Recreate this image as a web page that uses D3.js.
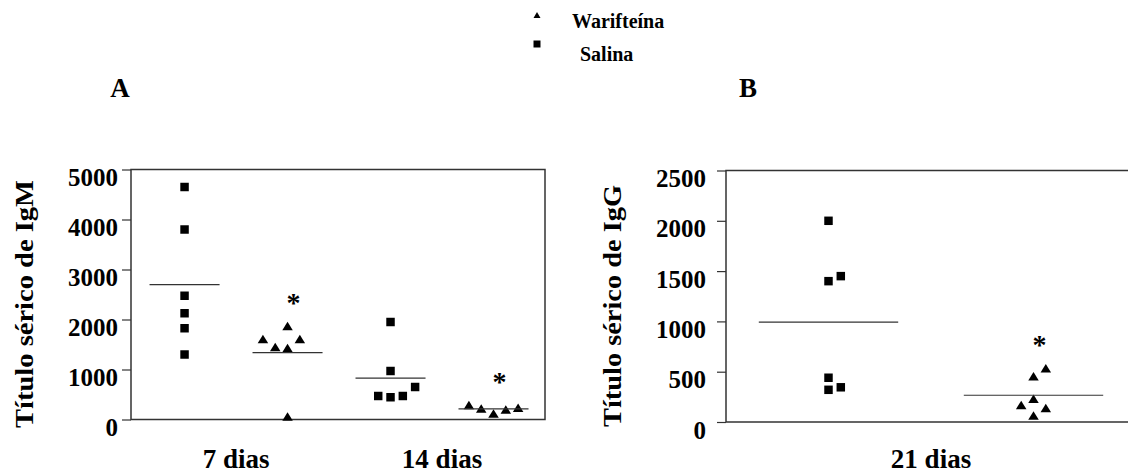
<!DOCTYPE html>
<html>
<head>
<meta charset="utf-8">
<script src="https://cdn.jsdelivr.net/npm/d3@7"></script>
<style>
  body { margin: 0; background: #fff; }
  svg { display: block; }
</style>
</head>
<body>
<svg id="chart"></svg>
<script>
// ---- data ----
// panel A: serum IgM titre, 7 and 14 days
const ticksA = [0, 1000, 2000, 3000, 4000, 5000];
const dayLabelsA = ["7 dias", "14 dias"];
const salina7 = [4650, 3800, 2475, 2125, 1825, 1300];
const salina7Slots = [0, 0, 0, 0, 0, 0];
const warif7 = [1610, 1450, 1430, 1610, 1870, 60];
const warif7Slots = [-2, -1, 0, 1, 0, 0];
const salina14 = [1950, 970, 470, 445, 470, 650];
const salina14Slots = [0, 0, -1, 0, 1, 2];
const warif14 = [290, 220, 120, 200, 235];
const warif14Slots = [-2, -1, 0, 1, 2];

// panel B: serum IgG titre, 21 days
const ticksB = [0, 500, 1000, 1500, 2000, 2500];
const dayLabelsB = ["21 dias"];
const salina21 = [2000, 1400, 1450, 440, 320, 345];
const salina21Slots = [0, 0, 1, 0, 0, 1];
const warif21 = [455, 535, 230, 170, 140, 65];
const warif21Slots = [0, 1, 0, -1, 1, 0];

const legendNames = ["Warifteína", "Salina"];

// ---- drawing ----
const W = 1128, H = 475;
const FONT = "'Liberation Serif', 'DejaVu Serif', 'Times New Roman', Times, serif";
const svg = d3.select("#chart").attr("width", W).attr("height", H)
    .style("font-family", FONT)
    .style("font-weight", "bold");

const slotGap = 12.3;   // horizontal spacing of side-by-side points

function triPath(w, h) {
    return "M0," + (-h / 2) + "L" + (w / 2) + "," + (h / 2) + "L" + (-w / 2) + "," + (h / 2) + "Z";
}
const squarePath = d3.symbol(d3.symbolSquare, 72)();
const trianglePath = triPath(10.5, 8.5);

function label(sel) {
    return sel.style("font-family", FONT).style("font-weight", "bold").attr("fill", "#000");
}

function drawPanel(p) {
    let x = d3.scaleLinear().domain(p.xDomain).range([p.left, p.right]);
    let y = d3.scaleLinear().domain([0, p.yMax]).range([p.bottom, p.top]);
    let g = svg.append("g");

    // frame
    g.append("path")
        .attr("d", "M" + p.right + "," + p.top + "H" + p.left + "V" + p.bottom + "H" + p.right + (p.closeRight ? "Z" : ""))
        .attr("fill", "none")
        .attr("stroke", "#333")
        .attr("stroke-width", 1.5);

    // y axis ticks + labels
    let axis = g.append("g")
        .attr("transform", "translate(" + p.left + ",0)")
        .call(d3.axisLeft(y).tickValues(p.ticks).tickSize(9).tickPadding(p.pad).tickFormat(d3.format("d")))
        .attr("font-family", null)
        .attr("font-size", null);
    axis.select(".domain").remove();
    axis.selectAll(".tick line").attr("stroke", "#333").attr("stroke-width", 1.2);
    axis.selectAll(".tick text")
        .call(label)
        .attr("font-size", 25)
        .attr("dy", "0.64em");

    // y title
    g.append("text")
        .call(label)
        .attr("transform", "translate(" + p.titleX + "," + p.titleY + ") rotate(-90)")
        .attr("text-anchor", "middle")
        .attr("font-size", 26)
        .attr("textLength", p.titleLen)
        .attr("lengthAdjust", "spacingAndGlyphs")
        .text(p.title);

    // day labels under the axis
    g.selectAll(".day")
        .data(p.days)
        .enter()
        .append("text")
        .call(label)
        .attr("x", (d, i) => x(i * 2 + 0.5))
        .attr("y", 468)
        .attr("text-anchor", "middle")
        .attr("font-size", 27)
        .text(d => d);

    // groups of points
    p.groups.forEach(function(grp) {
        let cx = x(grp.pos);

        g.selectAll(null)
            .data(grp.values)
            .enter()
            .append("path")
            .attr("d", grp.shape === "square" ? squarePath : trianglePath)
            .attr("transform", (d, i) => "translate(" + (cx + grp.slots[i] * slotGap) + "," + y(d) + ")")
            .attr("fill", "#000");

        // mean line
        let mean = d3.mean(grp.values);
        g.append("line")
            .attr("x1", x(grp.pos - 0.34))
            .attr("x2", x(grp.pos + 0.34))
            .attr("y1", y(mean))
            .attr("y2", y(mean))
            .attr("stroke", "#333")
            .attr("stroke-width", 1.2);

        // significance mark
        if (grp.star) {
            g.append("text")
                .call(label)
                .attr("x", cx + 6)
                .attr("y", y(d3.max(grp.values)) - 27 + 13)
                .attr("text-anchor", "middle")
                .attr("font-size", 28)
                .text("*");
        }
    });

    // panel letter
    g.append("text")
        .call(label)
        .attr("x", p.letterX)
        .attr("y", 97)
        .attr("text-anchor", "middle")
        .attr("font-size", 27)
        .text(p.letter);
}

drawPanel({
    letter: "A", letterX: 120,
    left: 131, right: 545, top: 169.5, bottom: 419.5, closeRight: true,
    xDomain: [-0.52, 3.5], yMax: 5000, ticks: ticksA, pad: 4,
    title: "Título sérico de IgM", titleX: 33, titleY: 304, titleLen: 248,
    days: dayLabelsA,
    groups: [
        { pos: 0, values: salina7, slots: salina7Slots, shape: "square" },
        { pos: 1, values: warif7, slots: warif7Slots, shape: "triangle", star: true },
        { pos: 2, values: salina14, slots: salina14Slots, shape: "square" },
        { pos: 3, values: warif14, slots: warif14Slots, shape: "triangle", star: true }
    ]
});

drawPanel({
    letter: "B", letterX: 748,
    left: 726, right: 1136, top: 170.5, bottom: 422, closeRight: false,
    xDomain: [-0.5, 1.5], yMax: 2500, ticks: ticksB, pad: 11,
    title: "Título sérico de IgG", titleX: 621, titleY: 306, titleLen: 242,
    days: dayLabelsB,
    groups: [
        { pos: 0, values: salina21, slots: salina21Slots, shape: "square" },
        { pos: 1, values: warif21, slots: warif21Slots, shape: "triangle", star: true }
    ]
});

// legend
const legend = svg.append("g");
legend.selectAll("path")
    .data(legendNames)
    .enter()
    .append("path")
    .attr("d", (d, i) => i === 0 ? triPath(7, 6) : d3.symbol(d3.symbolSquare, 49)())
    .attr("transform", (d, i) => "translate(537," + (15 + i * 29) + ")")
    .attr("fill", "#000");
legend.selectAll("text")
    .data(legendNames)
    .enter()
    .append("text")
    .call(label)
    .attr("x", (d, i) => i === 0 ? 572 : 580)
    .attr("y", (d, i) => 28 + i * 33)
    .attr("font-size", 20)
    .text(d => d);
</script>
</body>
</html>
